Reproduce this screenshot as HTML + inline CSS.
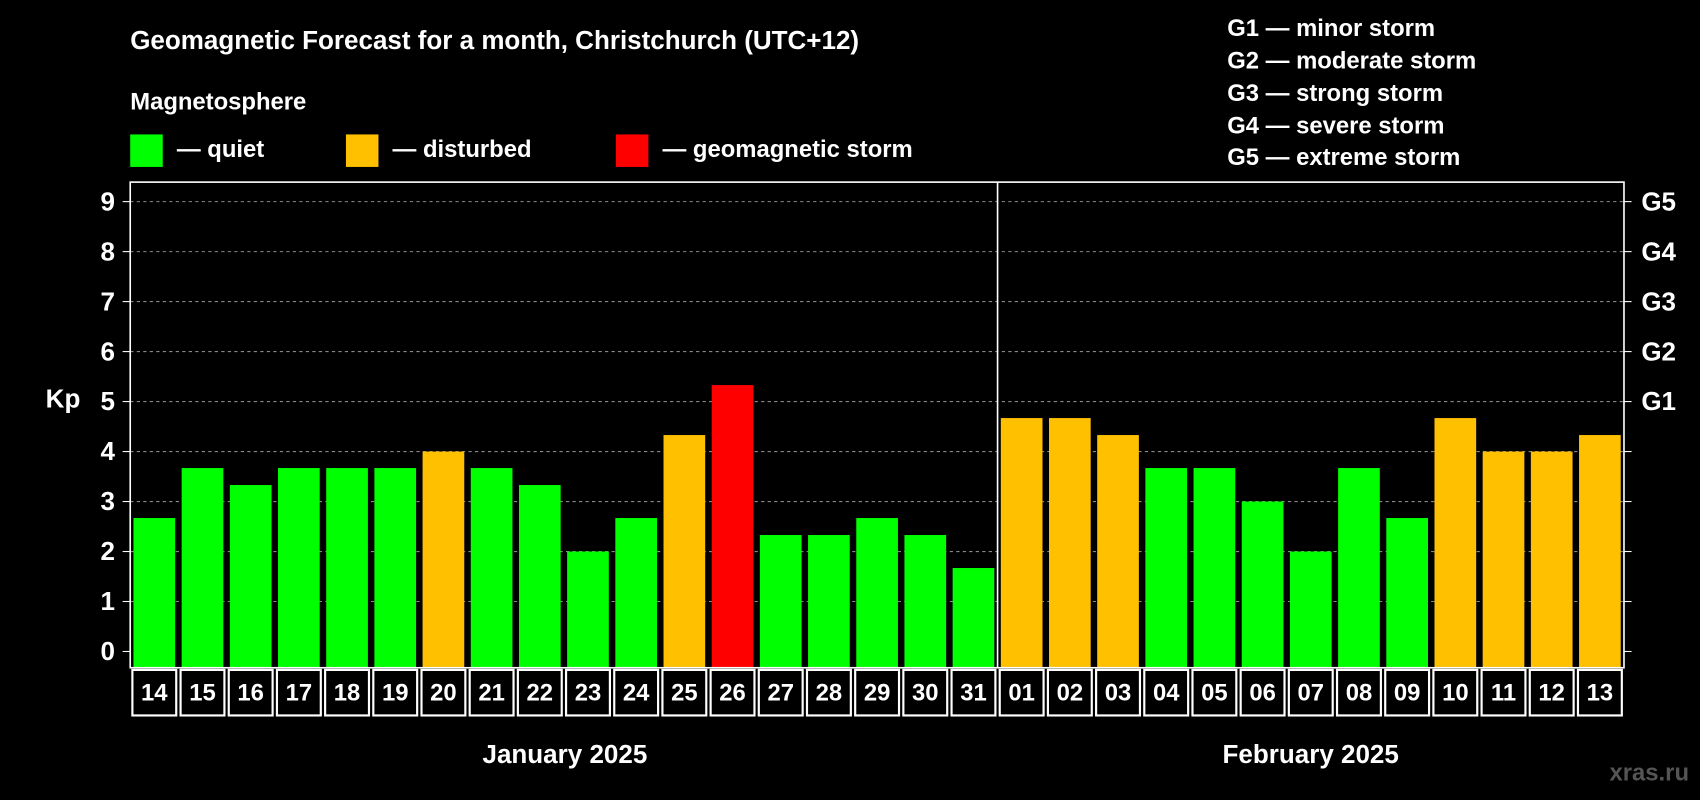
<!DOCTYPE html>
<html><head><meta charset="utf-8"><style>
html,body{margin:0;padding:0;background:#000;}
svg{display:block;font-family:"Liberation Sans",Arial,sans-serif;font-weight:bold;}
</style></head><body>
<svg id="chart" width="1700" height="800" viewBox="0 0 1568 738" xmlns="http://www.w3.org/2000/svg">
<rect width="1568" height="738" fill="#000"/>
<text x="120" y="45" fill="#fff" font-size="24">Geomagnetic Forecast for a month, Christchurch (UTC+12)</text>
<text x="120" y="101" fill="#fff" font-size="22">Magnetosphere</text>
<g><rect x="120" y="124" width="30" height="30" fill="#00ff00"/><text x="163" y="145" fill="#fff" font-size="22">— quiet</text></g>
<g><rect x="319" y="124" width="30" height="30" fill="#ffc000"/><text x="362" y="145" fill="#fff" font-size="22">— disturbed</text></g>
<g><rect x="568" y="124" width="30" height="30" fill="#ff0000"/><text x="611" y="145" fill="#fff" font-size="22">— geomagnetic storm</text></g>
<g fill="#fff" font-size="22">
<text x="1132" y="33">G1 — minor storm</text>
<text x="1132" y="63">G2 — moderate storm</text>
<text x="1132" y="93">G3 — strong storm</text>
<text x="1132" y="123">G4 — severe storm</text>
<text x="1132" y="152">G5 — extreme storm</text>
</g>
<text x="58" y="376" fill="#fff" font-size="24" text-anchor="middle">Kp</text>
<text x="521" y="704" fill="#fff" font-size="24" text-anchor="middle">January 2025</text>
<text x="1209" y="704" fill="#fff" font-size="24" text-anchor="middle">February 2025</text>
<text x="1558" y="720" fill="#555" font-size="22" text-anchor="end">xras.ru</text>
<g id="plot"></g>
</svg>
<script>
const days = ["14","15","16","17","18","19","20","21","22","23","24","25","26","27","28","29","30","31","01","02","03","04","05","06","07","08","09","10","11","12","13"];
const kp = [2.67,3.67,3.33,3.67,3.67,3.67,4,3.67,3.33,2,2.67,4.33,5.33,2.33,2.33,2.67,2.33,1.67,4.67,4.67,4.33,3.67,3.67,3,2,3.67,2.67,4.67,4,4,4.33];
const yTicks = [0,1,2,3,4,5,6,7,8,9];
const gLabels = ["G1","G2","G3","G4","G5"];
const gLevels = [5,6,7,8,9];
const monthSplit = 18;

const NS="http://www.w3.org/2000/svg";
const L=120,R=1498,T=168,B=616;
const y=v=>601-v*(601-186)/9;
const step=(R-L)/days.length;
const x=i=>L+i*step;
const plot=document.getElementById('plot');
function el(t,a){const e=document.createElementNS(NS,t);for(const k in a)e.setAttribute(k,a[k]);plot.appendChild(e);return e;}
function col(v){return v>=5?"#ff0000":(v>=4?"#ffc000":"#00ff00");}

yTicks.forEach(v=>{
  if(v>0){const g=el('line',{x1:L,x2:R,y1:y(v),y2:y(v),stroke:"#888","stroke-dasharray":"3,3","stroke-width":1});
  
  }
  const t1=el('line',{x1:L-7,x2:L,y1:y(v),y2:y(v),stroke:"#fff"});
  
  
  const t2=el('line',{x1:R,x2:R+7,y1:y(v),y2:y(v),stroke:"#fff"});
  
  
  const tx=el('text',{x:L-14,y:y(v)+8,fill:"#fff","font-size":24,"text-anchor":"end"});
  tx.textContent=v;
  
  
});
gLabels.forEach((g,i)=>{
  const tx=el('text',{x:R+16,y:y(gLevels[i])+8,fill:"#fff","font-size":24});
  tx.textContent=g;
  
  
});
kp.forEach((v,i)=>{
  const b=el('rect',{x:x(i)+3,y:y(v),width:step-6,height:B-y(v),fill:col(v)});
  
  
  const c=el('rect',{x:x(i)+2,y:B+2,width:step-4,height:42,fill:"none",stroke:"#fff","stroke-width":2});
  
  
  const t=el('text',{x:x(i)+step/2,y:B+30,fill:"#fff","font-size":22,"text-anchor":"middle"});
  t.textContent=days[i];
  
  
});
const fr=el('rect',{x:L,y:T,width:R-L,height:B-T,fill:"none",stroke:"#fff","stroke-width":1.5});


const d=el('line',{x1:x(monthSplit),x2:x(monthSplit),y1:T,y2:B,stroke:"#fff","stroke-width":1.5});


</script>
</body></html>
